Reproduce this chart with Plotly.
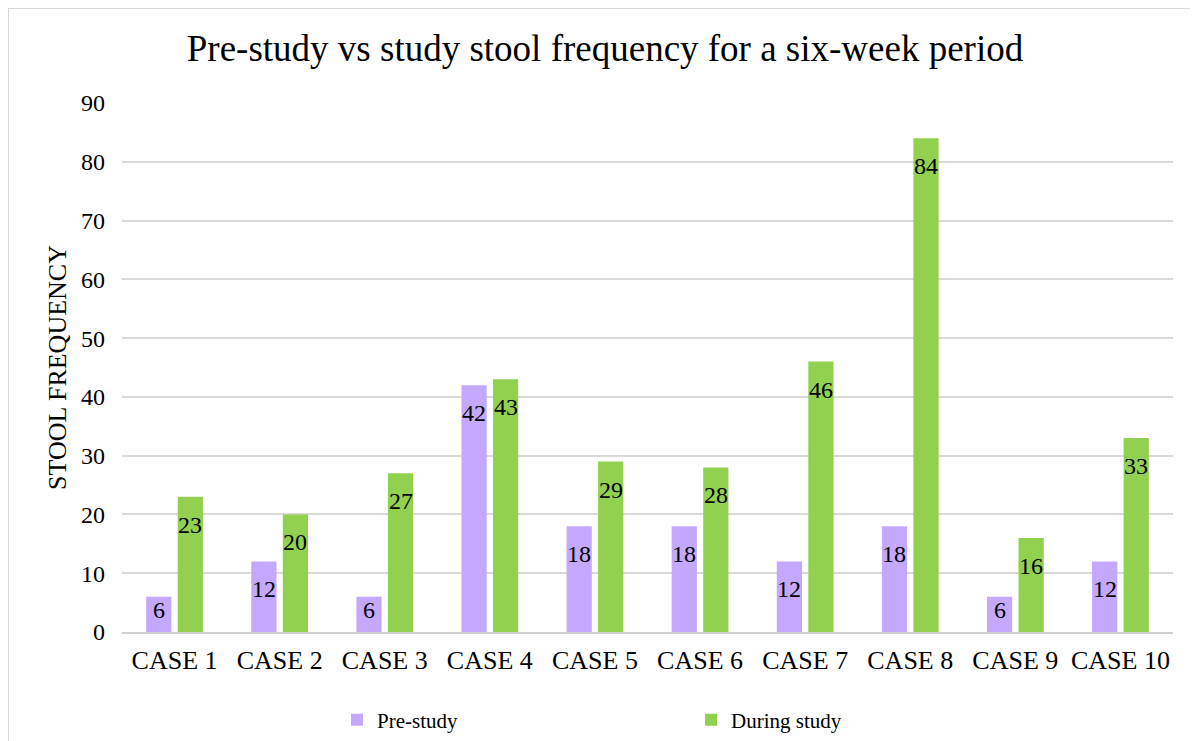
import plotly.graph_objects as go

categories = ["CASE 1", "CASE 2", "CASE 3", "CASE 4", "CASE 5",
              "CASE 6", "CASE 7", "CASE 8", "CASE 9", "CASE 10"]
pre_study = [6, 12, 6, 42, 18, 18, 12, 18, 6, 12]
during_study = [23, 20, 27, 43, 29, 28, 46, 84, 16, 33]
y_ticks = [0, 10, 20, 30, 40, 50, 60, 70, 80, 90]

FONT = "Liberation Serif, Times New Roman, serif"
PURPLE = "#C4A8FE"
GREEN = "#92D050"
BARGAP, GROUPGAP = 0.4, 0.2
Y_MAX = 90

fig = go.Figure()
fig.add_trace(go.Bar(
    x=categories, y=pre_study, name="Pre-study",
    marker=dict(color=PURPLE, line=dict(width=0)),
    legend="legend", showlegend=True, hoverinfo="x+y+name",
))
fig.add_trace(go.Bar(
    x=categories, y=during_study, name="During study",
    marker=dict(color=GREEN, line=dict(width=0)),
    legend="legend2", showlegend=True, hoverinfo="x+y+name",
))

# page body has an 8px margin; figure occupies viewport pixels 8..1198 x 8..741
OFF = 8
W, H = 1198 - OFF, 741 - OFF
L, R, T, B = 122 - OFF, 25, 103 - OFF, 741 - 632
pw, ph = W - L - R, H - T - B

def px_x(p):  # viewport pixel -> paper x
    return (p - OFF - L) / pw

def px_y(p):  # viewport pixel -> paper y
    return (H - B - (p - OFF)) / ph

# data labels at the inside end of each bar; kept within short bars
cat_w = pw / len(categories)
slot = cat_w * (1 - BARGAP) / 2
TOP_PAD, BOTTOM_PAD = 28, 22
annotations = []
for vals, sign in ((pre_study, -1), (during_study, 1)):
    for c, v in zip(categories, vals):
        bar_px = v / Y_MAX * ph
        if bar_px >= TOP_PAD + BOTTOM_PAD:
            y_ref, shift = v, -TOP_PAD
        else:
            y_ref, shift = 0, BOTTOM_PAD
        annotations.append(dict(
            x=c, y=y_ref, xref="x", yref="y", text=str(v), showarrow=False,
            xanchor="center", yanchor="middle", xshift=sign * slot / 2, yshift=shift,
            font=dict(family=FONT, size=24, color="black")))

fig.update_layout(
    width=W, height=H,
    margin=dict(l=L, r=R, t=T, b=B),
    paper_bgcolor="white", plot_bgcolor="white",
    showlegend=True,
    font=dict(family=FONT, size=22, color="black"),
    title=dict(text="Pre-study vs study stool frequency for a six-week period",
               x=(605 - OFF) / W, xanchor="center", y=1 - (48 - OFF) / H, yanchor="middle",
               font=dict(family=FONT, size=37, color="black")),
    barmode="group", bargap=BARGAP, bargroupgap=GROUPGAP,
    xaxis=dict(showgrid=False, showline=True, linecolor="#d0d0d0", linewidth=2,
               ticks="", tickfont=dict(family=FONT, size=26), ticklabelstandoff=4,
               automargin=False),
    yaxis=dict(range=[0, Y_MAX], tickvals=y_ticks, showgrid=True, gridcolor="#d9d9d9",
               gridwidth=2, zeroline=False, showline=False, ticks="",
               tickfont=dict(family=FONT, size=24), ticklabelstandoff=16,
               automargin=False,
               title=dict(text="STOOL FREQUENCY", font=dict(family=FONT, size=26),
                          standoff=6)),
    legend=dict(orientation="h", xref="container", yref="container",
                x=(337 - OFF) / W, y=1 - (720 - OFF) / H, yanchor="middle",
                xanchor="left", font=dict(family=FONT, size=21),
                itemwidth=30, bgcolor="rgba(0,0,0,0)"),
    legend2=dict(orientation="h", xref="container", yref="container",
                 x=(691 - OFF) / W, y=1 - (720 - OFF) / H, yanchor="middle",
                 xanchor="left", font=dict(family=FONT, size=21),
                 itemwidth=30, bgcolor="rgba(0,0,0,0)"),
    annotations=annotations,
    shapes=[dict(type="rect", xref="paper", yref="paper",
                 x0=px_x(8), x1=px_x(1215), y0=px_y(770), y1=px_y(8),
                 line=dict(color="#d9d9d9", width=2), fillcolor="rgba(0,0,0,0)",
                 layer="below")],
)

fig.write_html("out.html")
